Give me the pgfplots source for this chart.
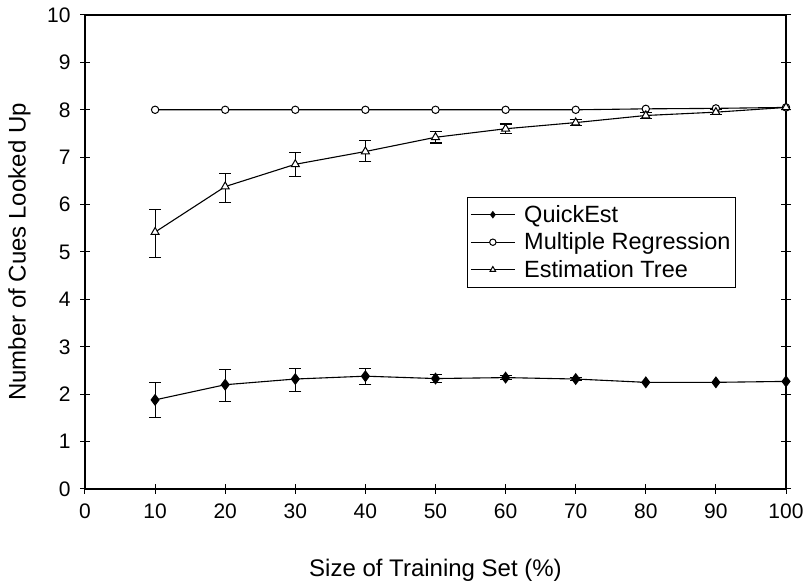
\documentclass[border=0pt]{standalone}
\usepackage{fontspec}
\setmainfont{Liberation Sans}
\usepackage{pgfplots}
\pgfplotsset{compat=1.18}
\begin{document}
\begin{tikzpicture}
\useasboundingbox (-85pt,-96pt) rectangle (727pt,489pt);
\begin{axis}[
  at={(0pt,0pt)}, anchor=south west,
  scale only axis,
  width=701pt, height=474pt,
  xmin=0, xmax=100, ymin=0, ymax=10,
  xtick={0,10,...,100}, ytick={0,1,...,10},
  tick align=center, major tick length=10pt,
  xtick pos=bottom, ytick pos=both,
  axis line style={line width=1.4pt},
  tick style={line width=1pt, black},
  /pgf/number format/assume math mode=true,
  ticklabel style={font=\fontsize{21}{24}\selectfont},
  xticklabel style={yshift=-6pt},
  yticklabel style={xshift=-6pt},
  label style={font=\fontsize{24}{28}\selectfont},
  xlabel={Size of Training Set (\%)},
  ylabel={Number of Cues Looked Up},
  xlabel style={at={([yshift=-70pt]rel axis cs:0.5,0)}, anchor=north, inner sep=0pt},
  ylabel style={at={([xshift=-77pt]rel axis cs:0,0.5)}, anchor=north, inner sep=0pt, rotate=0},
  legend style={at={(0.545,0.616)}, anchor=north west, draw=black, line width=0.8pt,
    font=\fontsize{23.5}{27}\selectfont, row sep=5pt, inner xsep=3pt, inner ysep=6pt,
    /tikz/every odd column/.append style={column sep=7pt}},
  legend cell align=left,
  legend image code/.code={\draw[mark repeat=2,mark phase=2,#1] plot coordinates {(0pt,0pt) (22pt,0pt) (44pt,0pt)};},
  legend image post style={line width=0.8pt, mark size=3.2pt},
  error bars/error bar style={line width=1.1pt, black},
  error bars/error mark options={rotate=90, mark size=6pt, line width=1.1pt, black},
]
\addplot[black, line width=1.1pt, mark=diamond*, mark size=5.2pt, mark options={fill=black, solid},
  error bars/.cd, y dir=both, y explicit]
coordinates {
 (10,1.88) += (0,0.37) -= (0,0.38)
 (20,2.20) += (0,0.33) -= (0,0.35)
 (30,2.32) += (0,0.23) -= (0,0.27)
 (40,2.38) += (0,0.17) -= (0,0.18)
 (50,2.33) += (0,0.08) -= (0,0.08)
 (60,2.35) += (0,0.04) -= (0,0.04)
 (70,2.32) += (0,0.04) -= (0,0.04)
 (80,2.25) += (0,0) -= (0,0)
 (90,2.25) += (0,0) -= (0,0)
 (100,2.27) += (0,0) -= (0,0)
};
\addlegendentry{QuickEst}
\addplot[black, line width=1.1pt, mark=*, mark size=3.7pt, mark options={fill=white, solid, line width=1pt}]
coordinates {
 (10,8.0) (20,8.0) (30,8.0) (40,8.0) (50,8.0) (60,8.0) (70,8.0) (80,8.02) (90,8.03) (100,8.05)
};
\addlegendentry{Multiple Regression}
\addplot[black, line width=1.1pt, mark=triangle*, mark size=4.6pt, mark options={fill=white, solid, line width=1pt},
  error bars/.cd, y dir=both, y explicit]
coordinates {
 (10,5.42) += (0,0.48) -= (0,0.54)
 (20,6.38) += (0,0.28) -= (0,0.33)
 (30,6.85) += (0,0.25) -= (0,0.25)
 (40,7.12) += (0,0.23) -= (0,0.22)
 (50,7.42) += (0,0.12) -= (0,0.12)
 (60,7.60) += (0,0.10) -= (0,0.10)
 (70,7.73) += (0,0.07) -= (0,0.07)
 (80,7.88) += (0,0.06) -= (0,0.06)
 (90,7.95) += (0,0.05) -= (0,0.05)
 (100,8.05) += (0,0) -= (0,0)
};
\addlegendentry{Estimation Tree}
\end{axis}
\end{tikzpicture}
\end{document}
